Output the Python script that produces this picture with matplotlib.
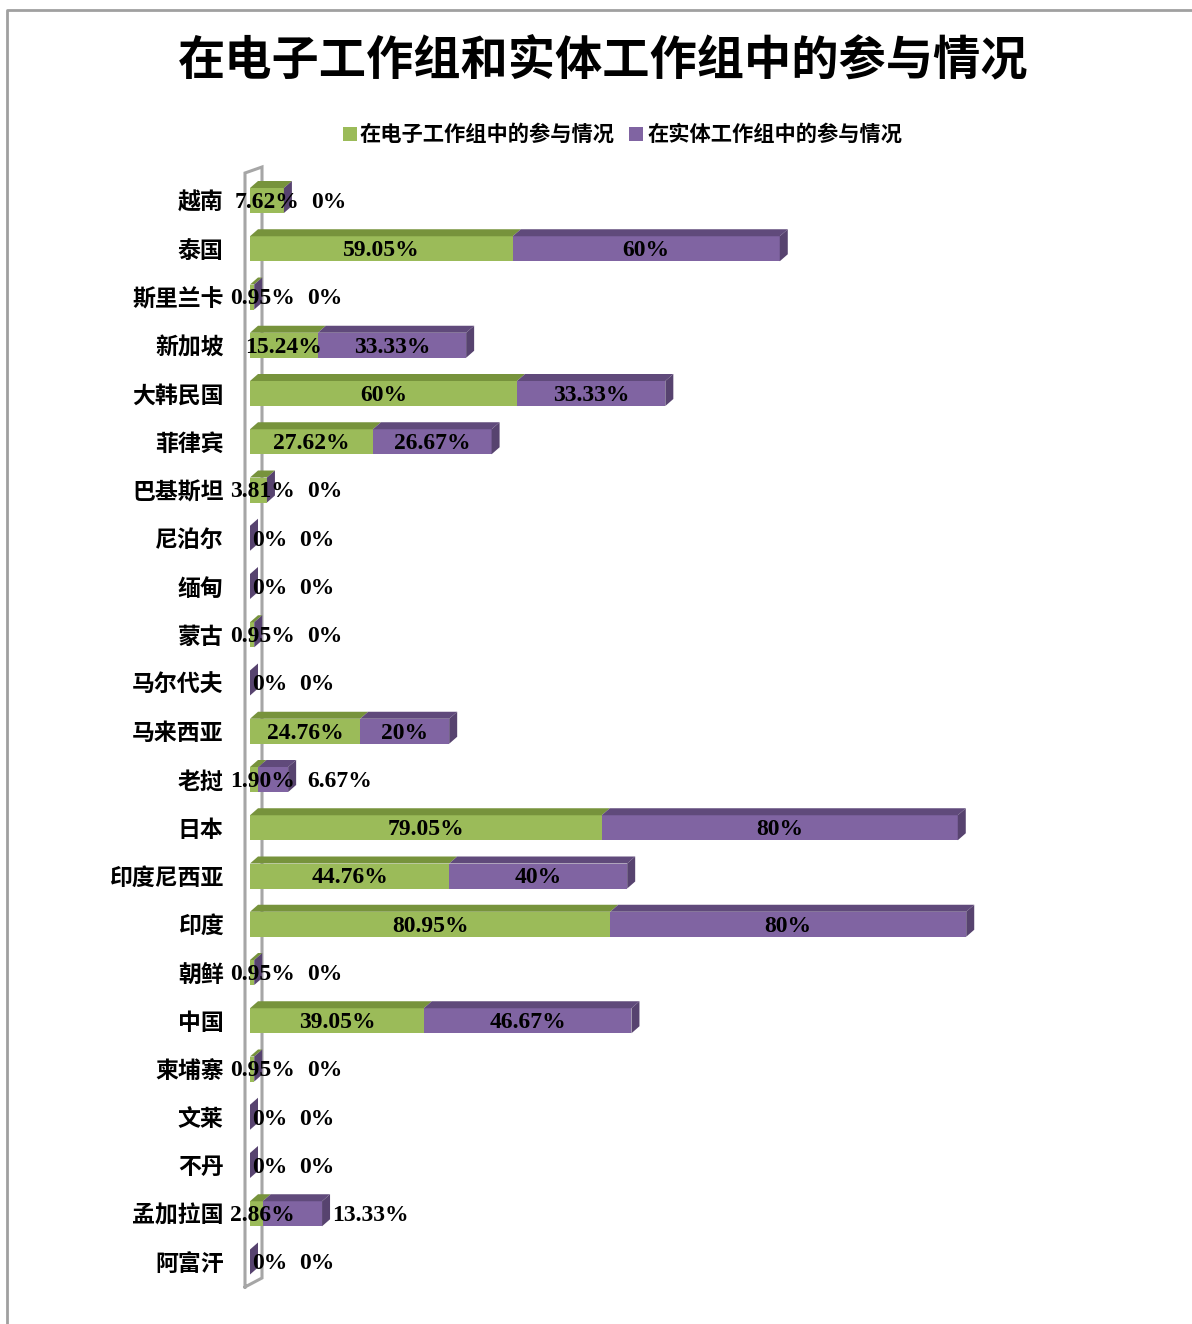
import matplotlib
matplotlib.use('Agg')
import matplotlib.pyplot as plt
from matplotlib.patches import Polygon, Rectangle
from matplotlib.lines import Line2D

categories = ['越南', '泰国', '斯里兰卡', '新加坡', '大韩民国', '菲律宾', '巴基斯坦',
              '尼泊尔', '缅甸', '蒙古', '马尔代夫', '马来西亚', '老挝', '日本',
              '印度尼西亚', '印度', '朝鲜', '中国', '柬埔寨', '文莱', '不丹',
              '孟加拉国', '阿富汗']
electronic = [7.62, 59.05, 0.95, 15.24, 60, 27.62, 3.81, 0, 0, 0.95, 0, 24.76,
              1.90, 79.05, 44.76, 80.95, 0.95, 39.05, 0.95, 0, 0, 2.86, 0]
physical = [0, 60, 0, 33.33, 33.33, 26.67, 0, 0, 0, 0, 0, 20, 6.67, 80, 40, 80,
            0, 46.67, 0, 0, 0, 13.33, 0]
series_names = ['在电子工作组中的参与情况', '在实体工作组中的参与情况']
title = '在电子工作组和实体工作组中的参与情况'

W, H = 1192, 1324
CJK = ['Noto Sans CJK SC', 'DejaVu Sans']
SERIF = ['Liberation Serif', 'DejaVu Serif']
G_FRONT, G_TOP = '#9BBB59', '#77933C'
P_FRONT, P_TOP, P_SIDE = '#8064A2', '#604A7B', '#57436F'

fig = plt.figure(figsize=(W / 100, H / 100), dpi=100)
fig.patch.set_facecolor('white')

# plot area in pixels
ax_left_px, ax_width_px = 250, 890
row_px = 48.25
first_row_px = 200.5
n = len(categories)
ax_top_px = first_row_px - row_px / 2
ax_h_px = row_px * n
ax = fig.add_axes([ax_left_px / W, (H - ax_top_px - ax_h_px) / H,
                   ax_width_px / W, ax_h_px / H])
ax.patch.set_visible(False)
ax.set_xlim(0, 200)
ax.set_ylim(n - 0.5, -0.5)
sx = ax_width_px / 200.0  # px per unit

for s in ax.spines.values():
    s.set_visible(False)
ax.set_xticks([])
ax.set_yticks(range(n))
ax.set_yticklabels(categories, fontfamily=CJK, fontweight='bold', fontsize=16.5)
ax.tick_params(axis='y', length=0, pad=19)

def dx_px(p):
    return p / sx

def dy_px(p):
    return p / row_px

bh = 25 / row_px
ddx, ddy = dx_px(8), dy_px(7)

# 3D wall
wall_x = [dx_px(245 - 250), dx_px(245 - 250), dx_px(262 - 250), dx_px(262 - 250), dx_px(245 - 250)]
wall_y = [dy_px(1287 - first_row_px), dy_px(173 - first_row_px), dy_px(167 - first_row_px),
          dy_px(1278 - first_row_px), dy_px(1287 - first_row_px)]
ax.plot(wall_x, wall_y, color='#A6A6A6', lw=2.2, clip_on=False, zorder=1,
        solid_joinstyle='miter')

def draw_segment(y, left, width, front, top):
    ax.barh(y, width, left=left, height=bh, color=front, edgecolor='none', zorder=3)
    yt = y - bh / 2
    if width > 0:
        ax.add_patch(Polygon([(left, yt), (left + width, yt), (left + width + ddx, yt - ddy),
                              (left + ddx, yt - ddy)], closed=True, facecolor=top,
                             edgecolor='none', zorder=3))

for i in range(n):
    g, p = electronic[i], physical[i]
    draw_segment(i, 0, g, G_FRONT, G_TOP)
    draw_segment(i, g, p, P_FRONT, P_TOP)
    e = g + p
    yt, yb = i - bh / 2, i + bh / 2
    ax.add_patch(Polygon([(e, yb), (e, yt), (e + ddx, yt - ddy), (e + ddx, yb - ddy)],
                         closed=True, facecolor=P_SIDE, edgecolor='none', zorder=3))

def fmt(v):
    return ('%d%%' % v) if float(v).is_integer() else ('%.2f%%' % v)

fig.canvas.draw()
r = fig.canvas.get_renderer()
lab_kw = dict(fontfamily=SERIF, fontweight='bold', fontsize=17, va='center',
              zorder=6, color='black')
for i in range(n):
    g, p = electronic[i], physical[i]
    gt = ax.text(g / 2, i + 0.04, fmt(g), ha='center', **lab_kw)
    w = gt.get_window_extent(r).width
    if w > g * sx:
        if g == 0:
            left_px = 2
        else:
            left_px = max(g * sx / 2 - w / 2, -20)
        gt.set_x(left_px / sx)
        gt.set_ha('left')
        g_right = left_px + w
    else:
        g_right = g * sx / 2 + w / 2
    pt = ax.text(g + p / 2, i + 0.04, fmt(p), ha='center', **lab_kw)
    w2 = pt.get_window_extent(r).width
    if w2 > p * sx:
        left2 = max(g_right + 12, (g + p) * sx + 10)
        pt.set_x(left2 / sx)
        pt.set_ha('left')

# title
fig.text(603 / W, 1 - 60 / H, title, ha='center', va='center', fontfamily=CJK,
         fontweight='bold', fontsize=34)

# legend
leg_y = 134
for (sq_x, txt_x), name, col in zip([(343, 360), (629, 648)], series_names, [G_FRONT, P_FRONT]):
    fig.patches.append(Rectangle((sq_x / W, 1 - (leg_y + 7) / H), 14 / W, 14 / H,
                                 transform=fig.transFigure, facecolor=col, edgecolor='none'))
    fig.text(txt_x / W, 1 - leg_y / H, name, ha='left', va='center', fontfamily=CJK,
             fontweight='bold', fontsize=15.3)

# outer border
fig.add_artist(Line2D([7 / W, 7 / W, 1.05], [-0.05, 1 - 10 / H, 1 - 10 / H],
                      transform=fig.transFigure, color='#A0A0A0', lw=2))

fig.savefig('out.png', dpi=100)
